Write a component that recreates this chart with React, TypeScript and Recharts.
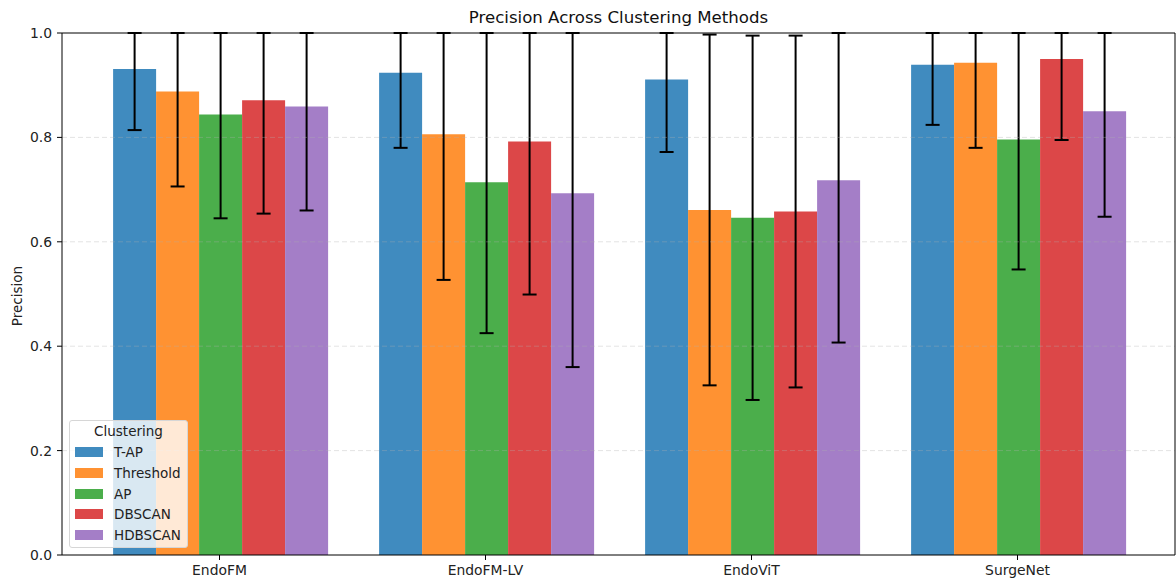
import React from "react";
import { BarChart, Bar, XAxis, YAxis, ErrorBar, ReferenceLine } from "recharts";

const methods = ["EndoFM", "EndoFM-LV", "EndoViT", "SurgeNet"];

const tap = [0.931, 0.924, 0.911, 0.939];
const tapStd = [0.117, 0.144, 0.139, 0.115];
const threshold = [0.888, 0.806, 0.661, 0.943];
const thresholdStd = [0.182, 0.279, 0.336, 0.163];
const ap = [0.844, 0.714, 0.646, 0.796];
const apStd = [0.199, 0.289, 0.349, 0.249];
const dbscan = [0.871, 0.792, 0.658, 0.95];
const dbscanStd = [0.217, 0.293, 0.337, 0.155];
const hdbscan = [0.859, 0.693, 0.718, 0.85];
const hdbscanStd = [0.199, 0.333, 0.311, 0.202];

const yTicks = [0, 0.2, 0.4, 0.6, 0.8, 1.0];
const gridTicks = [0.2, 0.4, 0.6, 0.8];

const series = [
  { name: "T-AP", values: tap, std: tapStd, color: "#1f77b4" },
  { name: "Threshold", values: threshold, std: thresholdStd, color: "#ff7f0e" },
  { name: "AP", values: ap, std: apStd, color: "#2ca02c" },
  { name: "DBSCAN", values: dbscan, std: dbscanStd, color: "#d62728" },
  { name: "HDBSCAN", values: hdbscan, std: hdbscanStd, color: "#9467bd" },
];

// error bars get cut at the top of the axes like matplotlib does
const data = methods.map((m, i) => {
  const row: Record<string, unknown> = { name: m };
  series.forEach((s, j) => {
    row["v" + j] = s.values[i];
    row["e" + j] = [s.std[i], Math.min(s.std[i], 1 - s.values[i])];
  });
  return row;
});

const font = "'DejaVu Sans', sans-serif";

function LegendBox() {
  return (
    <div
      style={{
        position: "absolute",
        left: 69,
        top: 420,
        width: 117,
        height: 126,
        background: "rgba(255,255,255,0.8)",
        border: "1px solid #d6d6d6",
        borderRadius: 3,
        fontFamily: font,
        fontSize: 13.5,
        color: "#222",
      }}
    >
      <div style={{ position: "absolute", top: 2, left: 0, width: "100%", textAlign: "center" }}>Clustering</div>
      {series.map((s, j) => (
        <div key={s.name} style={{ position: "absolute", left: 5, top: 23 + j * 20.8, height: 16, display: "flex", alignItems: "center" }}>
          <div style={{ width: 28, height: 10, background: s.color, opacity: 0.85 }} />
          <span style={{ marginLeft: 11 }}>{s.name}</span>
        </div>
      ))}
    </div>
  );
}

export default function App() {
  return (
    <div style={{ position: "fixed", left: 0, top: 0, width: 1176, height: 583, background: "#fff" }}>
      <div
        style={{
          position: "absolute",
          top: 8,
          left: 62,
          width: 1113,
          textAlign: "center",
          fontFamily: font,
          fontSize: 16.6,
          color: "#111",
        }}
      >
        Precision Across Clustering Methods
      </div>
      <div
        style={{
          position: "absolute",
          left: 17,
          top: 296,
          transform: "translate(-50%, -50%) rotate(-90deg)",
          fontFamily: font,
          fontSize: 13.5,
          color: "#222",
          whiteSpace: "nowrap",
        }}
      >
        Precision
      </div>
      <BarChart
        width={1176}
        height={583}
        data={data}
        margin={{ top: 33, right: 0, bottom: 0, left: 0 }}
        barCategoryGap="10%"
        barGap={0}
        style={{ fontFamily: font }}
      >
        <XAxis
          dataKey="name"
          height={28}
          padding={{ left: 24.5, right: 24.5 }}
          tickSize={5}
          tickMargin={5}
          axisLine={{ stroke: "#000", strokeWidth: 1 }}
          tickLine={{ stroke: "#000" }}
          tick={{ fill: "#222", fontSize: 13.9 }}
        />
        <YAxis
          domain={[0, 1]}
          ticks={yTicks}
          allowDataOverflow
          width={62}
          tickSize={5}
          tickMargin={5}
          tickFormatter={(v: number) => v.toFixed(1)}
          axisLine={{ stroke: "#000", strokeWidth: 1 }}
          tickLine={{ stroke: "#000" }}
          tick={{ fill: "#222", fontSize: 13.9 }}
        />
        <YAxis
          yAxisId="right"
          orientation="right"
          width={1}
          domain={[0, 1]}
          tick={false}
          tickLine={false}
          axisLine={{ stroke: "#000", strokeWidth: 1 }}
        />
        {series.map((s, j) => (
          <Bar key={s.name} dataKey={"v" + j} name={s.name} fill={s.color} fillOpacity={0.85} isAnimationActive={false}>
            <ErrorBar dataKey={"e" + j} direction="y" width={7} stroke="#000" strokeWidth={2} />
          </Bar>
        ))}
        {gridTicks.map((t) => (
          <ReferenceLine key={t} y={t} stroke="#b0b0b0" strokeOpacity={0.35} strokeDasharray="5 3" />
        ))}
        <ReferenceLine y={1} stroke="#000" strokeWidth={1} />
      </BarChart>
      <LegendBox />
    </div>
  );
}
